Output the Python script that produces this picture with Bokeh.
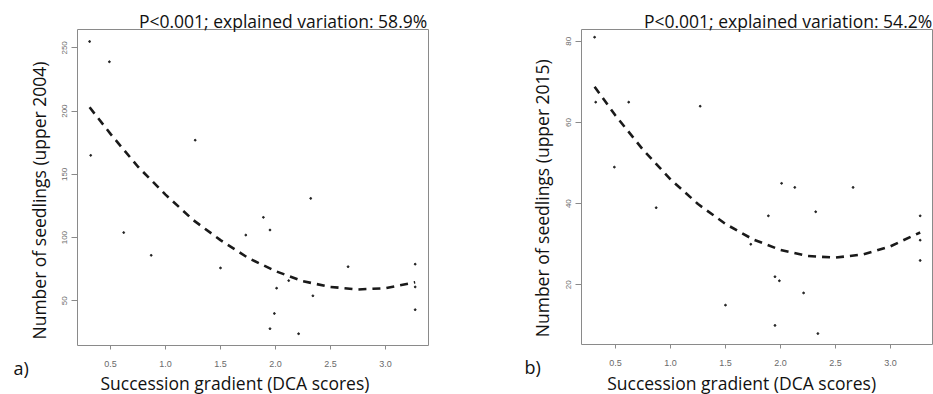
from bokeh.plotting import figure
from bokeh.layouts import row
from bokeh.models import FixedTicker, Range1d, Title
from bokeh.embed import file_html
from bokeh.resources import INLINE

# ---- data ----
dca = [0.31, 0.49, 0.32, 1.27, 2.32, 0.62, 0.87, 1.50, 1.73, 1.89, 1.95,
       2.01, 2.12, 1.99, 1.95, 2.21, 2.34, 2.66, 3.27, 3.27, 3.27]
seedlings_2004 = [255, 239, 165, 177, 131, 104, 86, 76, 102, 116, 106,
                  60, 66, 40, 28, 24, 54, 77, 79, 61, 43]

dca_b = [0.31, 0.32, 0.62, 0.49, 1.27, 2.01, 2.13, 2.66, 0.87, 1.89, 2.32,
         1.73, 3.27, 3.27, 3.27, 1.95, 1.99, 2.21, 1.50, 1.95, 2.34]
seedlings_2015 = [81, 65, 65, 49, 64, 45, 44, 44, 39, 37, 38,
                  30, 37, 31, 26, 22, 21, 18, 15, 10, 8]

fit_x = [0.31, 0.5, 0.75, 1.0, 1.25, 1.5, 1.75, 2.0, 2.25, 2.5, 2.75, 3.0, 3.27]
fit_2004 = [203, 182, 156, 134, 114, 98, 84, 73.5, 65.5, 61, 59, 60, 64.7]
fit_2015 = [68.8, 61.7, 53.3, 46.0, 39.9, 35.0, 31.2, 28.6, 27.1, 26.7, 27.5, 29.5, 32.9]

x_ticks = [0.5, 1.0, 1.5, 2.0, 2.5, 3.0]
x_tick_labels = ["0.5", "1.0", "1.5", "2.0", "2.5", "3.0"]
y_ticks_a = [50, 100, 150, 200, 250]
y_ticks_b = [20, 40, 60, 80]

title_a = "P<0.001; explained variation: 58.9%"
title_b = "P<0.001; explained variation: 54.2%"
ylab_a = "Number of seedlings (upper 2004)"
ylab_b = "Number of seedlings (upper 2015)"
xlab = "Succession gradient (DCA scores)"

FONT = "Open Sans"
GREY = "#8a8a8a"
INK = "#111111"


def panel(xs, ys, fx, fy, xr, yr, yticks, title, ylab, tag,
          fw, fh, bl, br, bt, bb, o):
    p = figure(frame_width=fw, frame_height=fh, output_backend="svg",
               toolbar_location=None, x_range=Range1d(*xr), y_range=Range1d(*yr),
               min_border_left=bl, min_border_right=br, min_border_top=bt,
               min_border_bottom=bb)
    p.grid.visible = False
    p.outline_line_color = GREY
    p.outline_line_width = 1

    for ax in (p.xaxis[0], p.yaxis[0]):
        ax.axis_line_color = None
        ax.major_tick_line_color = GREY
        ax.minor_tick_line_color = None
        ax.major_tick_in = 0
        ax.major_label_text_color = "#6a6a6a"
        ax.major_label_text_font = "Liberation Sans"
    p.xaxis.ticker = FixedTicker(ticks=x_ticks)
    p.xaxis.major_label_overrides = {t: s for t, s in zip(x_ticks, x_tick_labels)}
    p.xaxis.major_tick_out = 4
    p.xaxis.major_label_text_font_size = "9px"
    p.xaxis.major_label_standoff = 11
    p.yaxis.ticker = FixedTicker(ticks=yticks)
    p.yaxis.major_label_overrides = {t: str(t) for t in yticks}
    p.yaxis.major_tick_out = 6
    p.yaxis.major_label_text_font_size = "8px"
    p.yaxis.major_label_orientation = "vertical"
    p.yaxis.major_label_standoff = 4

    p.line(fx, fy, line_dash="8 6", line_width=2.6, line_color="#1a1a1a")
    p.scatter(xs, ys, size=1.8, color="#222222")

    # title above the box, right aligned
    p.title.text = title
    p.title.align = "right"
    p.title.offset = o["to"]
    p.title.standoff = o["ts"]
    p.title.text_font = FONT
    p.title.text_font_size = "17.5px"
    p.title.text_font_style = "normal"
    p.title.text_color = INK

    # y label as left title (starts near the bottom of the box)
    p.add_layout(Title(text=ylab, align="left", offset=o["yo"], standoff=o["ys"],
                       text_font=FONT, text_font_size="17.5px",
                       text_font_style="normal", text_color=INK), "left")
    # panel tag
    p.add_layout(Title(text=tag, align="left", vertical_align="top",
                       offset=o["ao"], standoff=o["as"],
                       text_font=FONT, text_font_size="18px",
                       text_font_style="normal", text_color=INK), "below")
    # x label
    p.add_layout(Title(text=xlab, align="left", offset=o["xo"], standoff=o["xs"],
                       text_font=FONT, text_font_size="17.5px",
                       text_font_style="normal", text_color=INK), "below")
    return p


pa = panel(dca, seedlings_2004, fit_x, fit_2004, (0.2, 3.391), (14.7, 264.5),
           y_ticks_a, title_a, ylab_a, "a)", 351, 316, 77, 42, 29, 49,
           {"to": 1.3, "ts": -6, "yo": 6, "ys": 17, "ao": -64, "as": -26.5,
            "xo": 23, "xs": -1.5})
pb = panel(dca_b, seedlings_2015, fit_x, fit_2015, (0.191, 3.382), (5.3, 82.9),
           y_ticks_b, title_b, ylab_b, "b)", 351, 315, 111, 1, 29, 50,
           {"to": 0.3, "ts": -6, "yo": 7.3, "ys": 19, "ao": -57, "as": -26.5,
            "xo": 25.7, "xs": 0.5})

layout = row(pa, pb, spacing=0)
open("out.html", "w").write(file_html(layout, INLINE))
